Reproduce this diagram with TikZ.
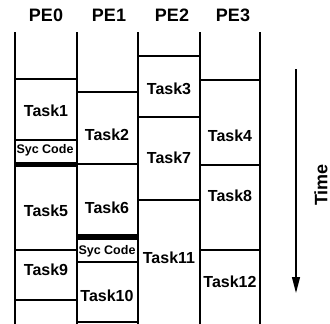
\documentclass[tikz,border=0pt]{standalone}
\usepackage{fontspec}
\setmainfont{Liberation Sans}
\usetikzlibrary{arrows.meta}
\begin{document}
\begin{tikzpicture}[x=1pt,y=-1pt,
  vline/.style={line width=2.2pt},
  hline/.style={line width=1.5pt},
  syncbar/.style={fill=black,draw=none},
  tasklbl/.style={font=\bfseries\fontsize{16}{16}\selectfont, inner sep=0pt},
  pelbl/.style={font=\bfseries\fontsize{18}{18}\selectfont, inner sep=0pt},
  syclbl/.style={font=\bfseries\fontsize{12.5}{13}\selectfont, inner sep=0pt},
  timelbl/.style={font=\bfseries\fontsize{18}{18}\selectfont, inner sep=0pt, rotate=90},
  timearrow/.style={line width=1.2pt,-{Triangle[length=16pt,width=8pt]}}]
\useasboundingbox (0,0) rectangle (330,324);
% vertical lines
\foreach \x in {15,77,138,200,260} \draw[vline] (\x,32) -- (\x,324);
% PE0
\draw[hline] (15,79) -- (77,79);
\draw[hline] (15,140) -- (77,140);
\fill[syncbar] (15,161.5) rectangle (77,167);
\draw[hline] (15,250) -- (77,250);
\draw[hline] (15,300) -- (77,300);
% PE1
\draw[hline] (77,92) -- (138,92);
\draw[hline] (77,164) -- (138,164);
\fill[syncbar] (77,234) rectangle (138,240);
\draw[hline] (77,262) -- (138,262);
\draw[hline] (77,322) -- (138,322);
% PE2
\draw[hline] (138,56) -- (200,56);
\draw[hline] (138,117) -- (200,117);
\draw[hline] (138,200) -- (200,200);
% PE3
\draw[hline] (200,80) -- (260,80);
\draw[hline] (200,165) -- (260,165);
\draw[hline] (200,250) -- (260,250);
% headers
\node[pelbl] (pe0) at (46,15) {PE0};
\node[pelbl] (pe1) at (109,15) {PE1};
\node[pelbl] (pe2) at (172,15) {PE2};
\node[pelbl] (pe3) at (233,15) {PE3};
% tasks
\node[tasklbl] (t1) at (46,111) {Task1};
\node[syclbl] (s0) at (45,150.5) {Syc Code};
\node[tasklbl] (t5) at (46,211) {Task5};
\node[tasklbl] (t9) at (46,270) {Task9};
\node[tasklbl] (t2) at (107,135) {Task2};
\node[tasklbl] (t6) at (107,208) {Task6};
\node[syclbl] (s1) at (107,251) {Syc Code};
\node[tasklbl] (t10) at (107,296) {Task10};
\node[tasklbl] (t3) at (169,89) {Task3};
\node[tasklbl] (t7) at (169,158) {Task7};
\node[tasklbl] (t11) at (169,258) {Task11};
\node[tasklbl] (t4) at (230,136) {Task4};
\node[tasklbl] (t8) at (230,196) {Task8};
\node[tasklbl] (t12) at (230,282) {Task12};
% time arrow
\coordinate (ta) at (296,69);
\coordinate (tb) at (296,293);
\draw[timearrow] (ta) -- (tb);
\node[timelbl] (time) at (321,185) {Time};
\end{tikzpicture}
\end{document}
